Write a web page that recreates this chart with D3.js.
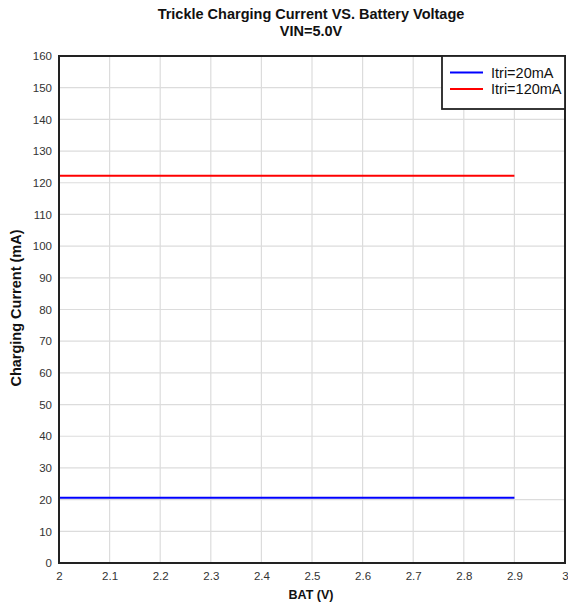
<!DOCTYPE html>
<html>
<head>
<meta charset="utf-8">
<script src="https://cdn.jsdelivr.net/npm/d3@7"></script>
<style>
  body { margin: 0; background: #fff; }
  text { font-family: Arial, "Liberation Sans", sans-serif; }
</style>
</head>
<body>
<div id="chart"></div>
<script>
var batVoltage = [2.0, 2.1, 2.2, 2.3, 2.4, 2.5, 2.6, 2.7, 2.8, 2.9];
var itri20 = [20.6, 20.6, 20.6, 20.6, 20.6, 20.6, 20.6, 20.6, 20.6, 20.6];
var itri120 = [122.2, 122.2, 122.2, 122.2, 122.2, 122.2, 122.2, 122.2, 122.2, 122.2];
var seriesNames = ["Itri=20mA", "Itri=120mA"];
var seriesColors = ["#0000ff", "#ff0000"];
var xTicks = [2, 2.1, 2.2, 2.3, 2.4, 2.5, 2.6, 2.7, 2.8, 2.9, 3];
var yTicks = d3.range(0, 161, 10);

var svgWidth = 568;
var svgHeight = 607;
var margin = { top: 56, right: 3, bottom: 44, left: 59 };
var width = svgWidth - margin.left - margin.right;
var height = svgHeight - margin.top - margin.bottom;

var svg = d3.select("#chart").append("svg")
  .attr("width", svgWidth)
  .attr("height", svgHeight);

var chartGroup = svg.append("g")
  .attr("transform", `translate(${margin.left}, ${margin.top})`);

var xScale = d3.scaleLinear().domain([2, 3]).range([0, width]);
var yScale = d3.scaleLinear().domain([0, 160]).range([height, 0]);

// grid
chartGroup.append("g")
  .selectAll("line")
  .data(xTicks)
  .enter()
  .append("line")
  .attr("x1", d => xScale(d)).attr("x2", d => xScale(d))
  .attr("y1", 0).attr("y2", height)
  .attr("stroke", "#dcdcdc")
  .attr("stroke-width", 1.2);

chartGroup.append("g")
  .selectAll("line")
  .data(yTicks)
  .enter()
  .append("line")
  .attr("x1", 0).attr("x2", width)
  .attr("y1", d => yScale(d)).attr("y2", d => yScale(d))
  .attr("stroke", "#dcdcdc")
  .attr("stroke-width", 1.2);

// axes (labels only)
var bottomAxis = d3.axisBottom(xScale).tickValues(xTicks).tickSize(0).tickPadding(9)
  .tickFormat(d3.format("~g"));
var leftAxis = d3.axisLeft(yScale).tickValues(yTicks).tickSize(0).tickPadding(7);

var xAxis = chartGroup.append("g")
  .attr("transform", `translate(0, ${height})`)
  .call(bottomAxis);
var yAxis = chartGroup.append("g").call(leftAxis);

[xAxis, yAxis].forEach(function(ax) {
  ax.select(".domain").remove();
  ax.selectAll("text")
    .style("font-size", "11.5px")
    .style("font-family", "Arial, 'Liberation Sans', sans-serif")
    .attr("fill", "#333");
});

// series
var line = d3.line()
  .x((d, i) => xScale(batVoltage[i]))
  .y(d => yScale(d));

[itri20, itri120].forEach(function(vals, i) {
  chartGroup.append("path")
    .datum(vals)
    .attr("d", line)
    .attr("fill", "none")
    .attr("stroke", seriesColors[i])
    .attr("stroke-width", 2);
});

// frame
chartGroup.append("rect")
  .attr("x", 0).attr("y", 0)
  .attr("width", width).attr("height", height)
  .attr("fill", "none")
  .attr("stroke", "#222")
  .attr("stroke-width", 2);

// legend
var legend = chartGroup.append("g")
  .attr("transform", `translate(${width - 123}, 0)`);

legend.append("rect")
  .attr("x", 0).attr("y", 0)
  .attr("width", 123).attr("height", 53)
  .attr("fill", "#fff")
  .attr("stroke", "#222")
  .attr("stroke-width", 1.8);

seriesNames.forEach(function(name, i) {
  var ly = 16.5 + i * 16.5;
  legend.append("line")
    .attr("x1", 8).attr("x2", 41)
    .attr("y1", ly).attr("y2", ly)
    .attr("stroke", seriesColors[i])
    .attr("stroke-width", 2);
  legend.append("text")
    .attr("x", 49).attr("y", ly + 5)
    .style("font-size", "14.5px")
    .attr("fill", "#111")
    .text(name);
});

// titles
svg.append("text")
  .attr("x", 311).attr("y", 19)
  .attr("text-anchor", "middle")
  .style("font-size", "14.5px")
  .style("font-weight", "bold")
  .attr("fill", "#111")
  .text("Trickle Charging Current VS. Battery Voltage");

svg.append("text")
  .attr("x", 311).attr("y", 36)
  .attr("text-anchor", "middle")
  .style("font-size", "14.5px")
  .style("font-weight", "bold")
  .attr("fill", "#111")
  .text("VIN=5.0V");

svg.append("text")
  .attr("x", 311).attr("y", 599)
  .attr("text-anchor", "middle")
  .style("font-size", "12.5px")
  .style("font-weight", "bold")
  .attr("fill", "#111")
  .text("BAT (V)");

svg.append("text")
  .attr("transform", `translate(21, ${308}) rotate(-90)`)
  .attr("text-anchor", "middle")
  .style("font-size", "14.5px")
  .style("font-weight", "bold")
  .attr("fill", "#111")
  .text("Charging Current (mA)");
</script>
</body>
</html>
